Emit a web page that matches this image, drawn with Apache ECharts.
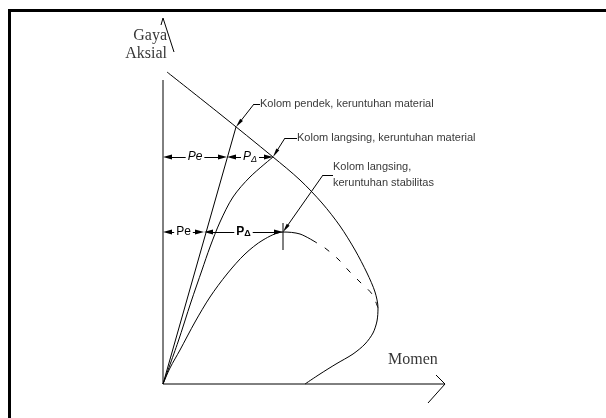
<!DOCTYPE html>
<html><head><meta charset="utf-8">
<script src="https://cdn.jsdelivr.net/npm/echarts@6/dist/echarts.min.js"></script>
<style>html,body{margin:0;padding:0;background:#fff}#c{width:606px;height:418px}</style>
</head><body><div id="c"></div>
<script>
// Diagram values: [Momen, Gaya Aksial] in arbitrary units
const envelope = [[4,312],[57,270],[110,227],[137,204],[159,181],[177,158],[192,134],[204,111],[212,92],[215,76],[214,63],[210,51],[202,40],[190,30],[173,20],[157,10],[142,0]];
const shortColumn = [[0,0],[73,257]];
const slenderMaterial = [[0,0],[15,42],[28,82],[39,114],[47,137],[57,162],[70,187],[87,207],[110,227]];
const stabilitySolid = [[0,0],[7,16],[17,34],[32,62],[47,87],[64,110],[82,130],[100,144],[120,152],[137,150],[154,141]];
const stabilityDashed = [[154,141],[162,136],[175,125],[186,113],[197,102],[209,90],[215,76]];
const peakTick = [[120,134],[120,161]];

const xAxisLine = [[0,0],[282,0]];
const xArrow = [[273,9],[282,0],[265,-19]];
const yAxisLine = [[0,0],[0,304]];
const yArrow = [[-2,359],[0,366],[11,332]];

const dimUpperLevel = 227;
const dimUpperBounds = [0,64,110];
const dimUpperLabels = ['{i|Pe}','{i|P}{is|Δ}'];
const dimLowerLevel = 152;
const dimLowerBounds = [0,41,120];
const dimLowerLabels = ['{n|Pe}','{b|P}{bs|Δ}'];

const leaderTips = [[73,257],[110,227],[120,152]];
const leaderElbows = [[91,280],[122,246],[160,209]];
const leaderEnds = [[97,280],[134,246],[170,209]];
const calloutTexts = ['Kolom pendek, keruntuhan material','Kolom langsing, keruntuhan material','Kolom langsing,\nkeruntuhan stabilitas'];

const yTitle = 'Gaya\nAksial';
const yTitleAt = [4,339];
const xTitle = 'Momen';
const xTitleAt = [225,24];

const SANS = '"Liberation Sans", Arial, sans-serif';
const SERIF = '"Liberation Serif", "Times New Roman", serif';
const AH = 9; // arrowhead length (px; axes are 1 unit = 1 px)

function ln(data, extra) {
  return Object.assign({type:'line', data:data, symbol:'none', showSymbol:false, silent:true,
    clip:false, animation:false, lineStyle:{color:'#000', width:1}}, extra || {});
}
// move point b toward a by d, so that a centred arrowhead's tip lands on b
function pullBack(a, b, d) {
  const dx = b[0] - a[0], dy = b[1] - a[1];
  const L = Math.sqrt(dx * dx + dy * dy) || 1;
  return [b[0] - dx / L * d, b[1] - dy / L * d];
}

function dims(level, bounds, labels) {
  const out = [];
  for (let i = 0; i < bounds.length - 1; i++) {
    const a = [bounds[i], level], b = [bounds[i+1], level];
    out.push([
      {coord: pullBack(b, a, AH / 2), label:{formatter: labels[i]}},
      {coord: pullBack(a, b, AH / 2)}
    ]);
  }
  return out;
}

const leaderLines = [];
leaderTips.forEach((t, i) => {
  leaderLines.push([{coord:leaderElbows[i], symbol:'none'}, {coord:pullBack(leaderElbows[i], t, AH / 2), symbol:'triangle'}]);
  leaderLines.push([{coord:leaderElbows[i], symbol:'none'}, {coord:leaderEnds[i], symbol:'none'}]);
});

const richDim = {
  i:{fontFamily:SANS, fontSize:12, fontStyle:'italic', color:'#000'},
  is:{fontFamily:SANS, fontSize:9, fontStyle:'italic', color:'#000', padding:[4,0,0,0]},
  n:{fontFamily:SANS, fontSize:12, color:'#000'},
  b:{fontFamily:SANS, fontSize:12, fontWeight:'bold', color:'#000'},
  bs:{fontFamily:SANS, fontSize:9, fontWeight:'bold', color:'#000', padding:[4,0,0,0]}
};

const chart = echarts.init(document.getElementById('c'), null, {renderer:'canvas'});
chart.setOption({
  animation:false,
  backgroundColor:'#fff',
  grid:{left:0, right:0, top:0, bottom:0},
  xAxis:{type:'value', min:-163, max:443, show:false},
  yAxis:{type:'value', min:-34, max:384, show:false},
  graphic:[
    {type:'line', shape:{x1:8, y1:10.5, x2:606, y2:10.5}, style:{stroke:'#000', lineWidth:3}, silent:true},
    {type:'line', shape:{x1:9.5, y1:9, x2:9.5, y2:418}, style:{stroke:'#000', lineWidth:3}, silent:true}
  ],
  series:[
    ln(envelope, {smooth:0.3}),
    ln(shortColumn),
    ln(slenderMaterial, {smooth:0.3}),
    ln(stabilitySolid, {smooth:0.3}),
    ln(stabilityDashed, {smooth:0.3, lineStyle:{color:'#000', width:1, type:[6,9], dashOffset:6}}),
    ln(peakTick),
    ln(xAxisLine), ln(xArrow), ln(yAxisLine), ln(yArrow),
    ln([], {
      markLine:{
        silent:true, animation:false,
        symbol:['triangle','triangle'], symbolSize:[5,AH],
        lineStyle:{color:'#000', width:1, type:'solid'},
        label:{show:true, position:'middle', verticalAlign:'middle', align:'center',
               backgroundColor:'#fff', padding:[1,2], distance:0,
               color:'#000', fontFamily:SANS, fontSize:12, rich:richDim},
        data: dims(dimUpperLevel, dimUpperBounds, dimUpperLabels).concat(dims(dimLowerLevel, dimLowerBounds, dimLowerLabels))
      }
    }),
    ln([], {
      markLine:{
        silent:true, animation:false,
        symbolSize:[3.5,AH],
        lineStyle:{color:'#000', width:1, type:'solid'},
        label:{show:false},
        data: leaderLines
      }
    }),
    {
      type:'scatter', silent:true, animation:false, symbolSize:0,
      data: leaderEnds.map((e, i) => ({value:e, name:calloutTexts[i]})),
      label:{show:true, position:'right', distance:0, formatter:'{b}', color:'#000',
             fontFamily:SANS, fontSize:11, lineHeight:16}
    },
    {
      type:'scatter', silent:true, animation:false, symbolSize:0,
      data:[{value:yTitleAt, name:yTitle, label:{position:'left', align:'right'}},
            {value:xTitleAt, name:xTitle, label:{position:'right'}}],
      label:{show:true, distance:0, formatter:'{b}', color:'#000', fontFamily:SERIF, fontSize:16, lineHeight:18}
    }
  ]
});
</script>
</body></html>
